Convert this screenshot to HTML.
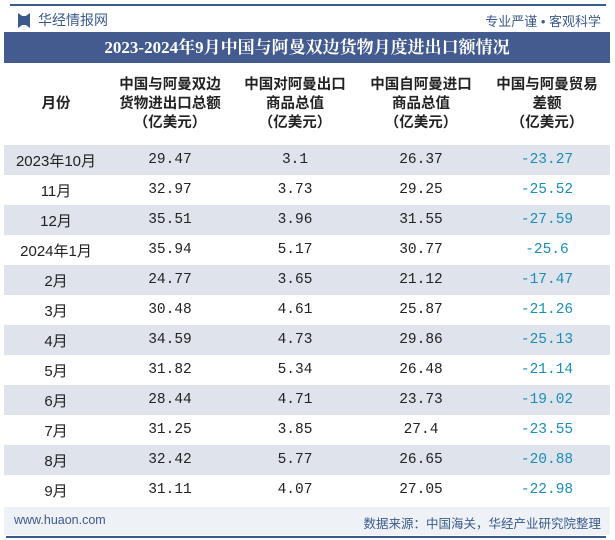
<!DOCTYPE html>
<html><head><meta charset="utf-8"><style>
body{margin:0;width:615px;height:540px;background:#fff;font-family:"Liberation Sans","Noto Sans CJK SC",sans-serif;position:relative;overflow:hidden}
.abs{position:absolute}
table{position:absolute;left:4px;top:63px;width:606px;border-collapse:collapse}
th{height:82px;font-size:14.5px;font-weight:bold;color:#222;line-height:19px;padding:0}
td{height:30px;padding:0;text-align:center;font-family:"Liberation Mono","Noto Sans CJK SC",monospace;font-size:14.5px;color:#222}
td:first-child{font-family:"Liberation Sans","Noto Sans CJK SC",sans-serif;font-size:15px}
tr.s td{background:#dfe3ec}
td.neg{color:#1a8fb5}
</style></head><body>
<div class="abs" style="left:10px;top:4px;width:596px;height:2px;background:#3b5a8c"></div>
<div class="abs" style="left:18px;top:13px;width:12px;height:15px;background:#3b5a8c;clip-path:polygon(0 0,35% 20%,65% 20%,100% 0,100% 100%,65% 80%,35% 80%,0 100%)"></div>
<div class="abs" style="left:38px;top:10px;font-size:14px;color:#3b5a8c">华经情报网</div>
<div class="abs" style="right:14px;top:11px;font-size:13px;color:#3b5a8c">专业严谨 • 客观科学</div>
<div class="abs" style="left:4px;top:32px;width:606px;height:31px;background:#435b8f;color:#fff;font-size:17px;font-weight:bold;text-align:center;line-height:31px;font-family:'Liberation Serif','Noto Serif CJK SC',serif">2023-2024年9月中国与阿曼双边货物月度进出口额情况</div>
<table>
<thead><tr>
<th style="width:104px">月份</th><th style="width:124px">中国与阿曼双边<br>货物进出口总额<br>（亿美元）</th><th style="width:126px">中国对阿曼出口<br>商品总值<br>（亿美元）</th><th style="width:126px">中国自阿曼进口<br>商品总值<br>（亿美元）</th><th>中国与阿曼贸易<br>差额<br>（亿美元）</th></tr></thead>
<tbody id="tb"></tbody></table>
<div class="abs" style="left:4px;top:507px;width:606px;height:28px;background:#eef1f6"></div>
<div class="abs" style="left:14px;top:513px;font-size:12.5px;color:#3b5a8c">www.huaon.com</div>
<div class="abs" style="right:14px;top:513px;font-size:12.5px;color:#3b5a8c">数据来源：中国海关，华经产业研究院整理</div>
<div class="abs" style="left:6px;top:536px;width:600px;height:2px;background:#3b5a8c"></div>
<script>
const months=["2023年10月","11月","12月","2024年1月","2月","3月","4月","5月","6月","7月","8月","9月"];
const total=["29.47","32.97","35.51","35.94","24.77","30.48","34.59","31.82","28.44","31.25","32.42","31.11"];
const exportsV=["3.1","3.73","3.96","5.17","3.65","4.61","4.73","5.34","4.71","3.85","5.77","4.07"];
const importsV=["26.37","29.25","31.55","30.77","21.12","25.87","29.86","26.48","23.73","27.4","26.65","27.05"];
const balance=["-23.27","-25.52","-27.59","-25.6","-17.47","-21.26","-25.13","-21.14","-19.02","-23.55","-20.88","-22.98"];
const tb=document.getElementById('tb');
months.forEach((m,i)=>{
 const tr=document.createElement('tr');
 
 
 if(i%2==0)tr.className='s';
 [m,total[i],exportsV[i],importsV[i],balance[i]].forEach((v,j)=>{
  const td=document.createElement('td');
  
  
  if(j==4)td.className='neg';
  td.textContent=v;tr.appendChild(td);
 });
 tb.appendChild(tr);
});
</script>
</body></html>
